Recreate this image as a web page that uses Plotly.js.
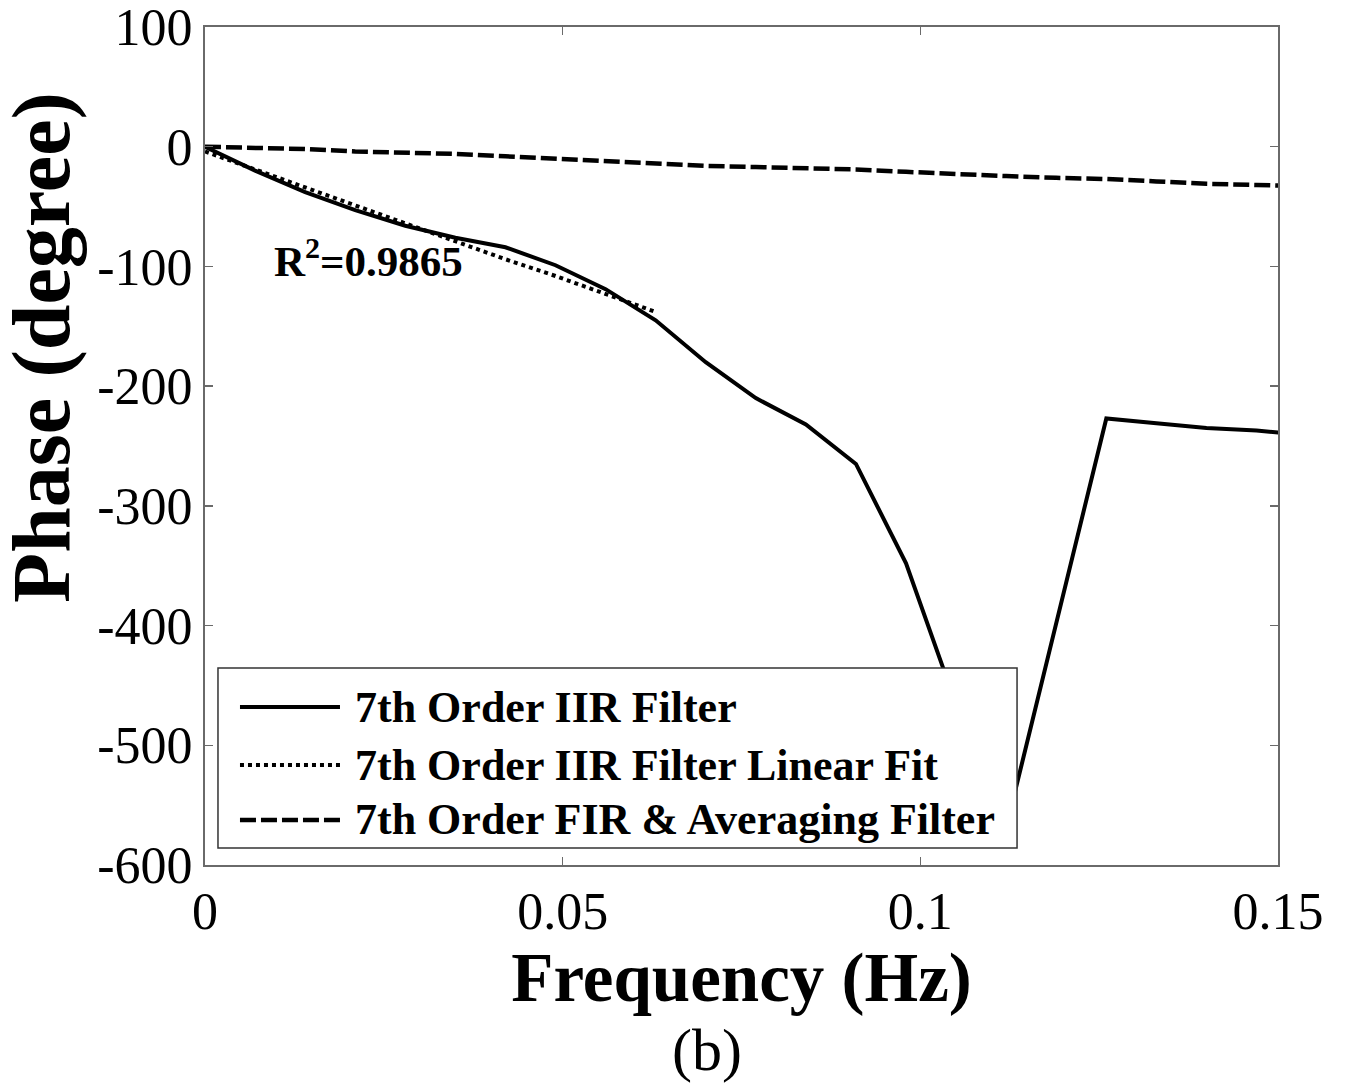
<!DOCTYPE html>
<html>
<head>
<meta charset="utf-8">
<script src="https://cdn.plot.ly/plotly-3.0.1.min.js"></script>
<style>
  html, body { margin: 0; padding: 0; background: #ffffff; }
  #chart { width: 1347px; height: 1087px; }
</style>
</head>
<body>
<div id="chart"></div>
<script>
// Frequency samples (Hz) of the phase responses
const freq = [0, 0.007, 0.014, 0.021, 0.028, 0.035, 0.042, 0.049, 0.056, 0.063,
              0.070, 0.077, 0.084, 0.091, 0.098, 0.105, 0.112, 0.119, 0.126,
              0.133, 0.140, 0.147, 0.154];

// Phase (degree) of the 7th order IIR filter
const iirPhase = [0, -20, -38, -53, -66, -76, -84, -99, -119, -145,
                  -180, -210, -232, -265, -348, -466, -569, -398, -227,
                  -231, -235, -237, -241];

// Linear fit of the IIR phase over the low-frequency band
const fitFreq = [0, 0.007, 0.014, 0.021, 0.028, 0.035, 0.042, 0.049, 0.056, 0.063];
const fitPhase = [-4, -19, -34, -49, -64, -79, -94, -108, -123, -138];

// Phase (degree) of the 7th order FIR & averaging filter
const firPhase = [0, -1, -2, -4, -5, -6, -8, -10, -12.5, -14,
                  -16, -17, -18, -19, -21, -23, -24.5, -26, -27,
                  -29, -31, -32, -33];

// Series names shown in the legend
const seriesNames = ['7th Order IIR Filter',
                     '7th Order IIR Filter Linear Fit',
                     '7th Order FIR & Averaging Filter'];

// Tick values and labels
const xTicks = [0, 0.05, 0.1, 0.15];
const xTickText = ['0', '0.05', '0.1', '0.15'];
const yTicks = [100, 0, -100, -200, -300, -400, -500, -600];
const yTickText = ['100', '0', '-100', '-200', '-300', '-400', '-500', '-600'];

const fitLabel = 'R<sup>2</sup>=0.9865';
const xTitle = 'Frequency (Hz)';
const yTitle = 'Phase (degree)';
const panelLabel = '(b)';

const serif = '"Liberation Serif", "Times New Roman", Times, serif';
const axisGray = '#6a6a6a';

const dashes = ['solid', '4px,4px', '16px,5px'];
const widths = [4, 4, 4.5];

const traces = [
  { x: freq, y: iirPhase, name: seriesNames[0], mode: 'lines',
    line: { color: '#000', width: widths[0], dash: dashes[0] }, showlegend: false },
  { x: fitFreq, y: fitPhase, name: seriesNames[1], mode: 'lines',
    line: { color: '#000', width: widths[1], dash: dashes[1] }, showlegend: false },
  { x: freq, y: firPhase, name: seriesNames[2], mode: 'lines',
    line: { color: '#000', width: widths[2], dash: dashes[2] }, showlegend: false }
];

// Legend box drawn in paper coordinates, opaque over the curves
const legendBox = { x0: 0.0121, x1: 0.7568, y0: 0.0203, y1: 0.2351 };
const legendRows = [0.1885, 0.1193, 0.0537];
const sampleX = [0.0326, 0.1258];
const legendTextX = 0.1375;

const shapes = [{
  type: 'rect', xref: 'paper', yref: 'paper', layer: 'above',
  x0: legendBox.x0, x1: legendBox.x1, y0: legendBox.y0, y1: legendBox.y1,
  fillcolor: '#ffffff', line: { color: '#333', width: 1.5 }
}];
const annotations = [];
seriesNames.forEach((name, i) => {
  shapes.push({
    type: 'line', xref: 'paper', yref: 'paper', layer: 'above',
    x0: sampleX[0], x1: sampleX[1], y0: legendRows[i], y1: legendRows[i],
    line: { color: '#000', width: widths[i], dash: dashes[i] }
  });
  annotations.push({
    xref: 'paper', yref: 'paper', x: legendTextX, y: legendRows[i],
    xanchor: 'left', yanchor: 'middle', showarrow: false,
    text: '<b>' + name.replace('&', '&amp;') + '</b>',
    font: { family: serif, size: 44, color: '#000' }
  });
});

annotations.push({
  xref: 'x', yref: 'y', x: 0.0093, y: -93, xanchor: 'left', yanchor: 'middle',
  showarrow: false, text: '<b>' + fitLabel + '</b>',
  font: { family: serif, size: 43, color: '#000' }
});
annotations.push({
  xref: 'paper', yref: 'paper', x: -0.153, y: 0.618, xanchor: 'center', yanchor: 'middle',
  showarrow: false, textangle: -90, text: '<b>' + yTitle + '</b>',
  font: { family: serif, size: 82, color: '#000' }
});
annotations.push({
  xref: 'paper', yref: 'paper', x: 0.468, y: -0.221, xanchor: 'center', yanchor: 'middle',
  showarrow: false, text: panelLabel,
  font: { family: serif, size: 60, color: '#000' }
});

const layout = {
  width: 1347, height: 1087,
  margin: { l: 205, r: 69, t: 27, b: 222, pad: 0 },
  paper_bgcolor: '#ffffff', plot_bgcolor: '#ffffff',
  showlegend: false,
  font: { family: serif, color: '#000' },
  xaxis: {
    range: [0, 0.15], tickvals: xTicks, ticktext: xTickText,
    showgrid: false, zeroline: false,
    showline: true, linecolor: axisGray, linewidth: 2, mirror: 'ticks',
    ticks: 'inside', ticklen: 8, tickwidth: 1.5, tickcolor: axisGray,
    tickfont: { family: serif, size: 52, color: '#000' },
    ticklabeloverflow: 'allow',
    title: { text: '<b>' + xTitle + '</b>', standoff: 2,
             font: { family: serif, size: 69, color: '#000' } }
  },
  yaxis: {
    range: [-600, 100], tickvals: yTicks, ticktext: yTickText,
    showgrid: false, zeroline: false,
    showline: true, linecolor: axisGray, linewidth: 2, mirror: 'ticks',
    ticks: 'inside', ticklen: 8, tickwidth: 1.5, tickcolor: axisGray,
    tickfont: { family: serif, size: 52, color: '#000' },
    ticklabeloverflow: 'allow'
  },
  shapes: shapes,
  annotations: annotations
};

Plotly.newPlot('chart', traces, layout, { staticPlot: true, displayModeBar: false });
</script>
</body>
</html>
